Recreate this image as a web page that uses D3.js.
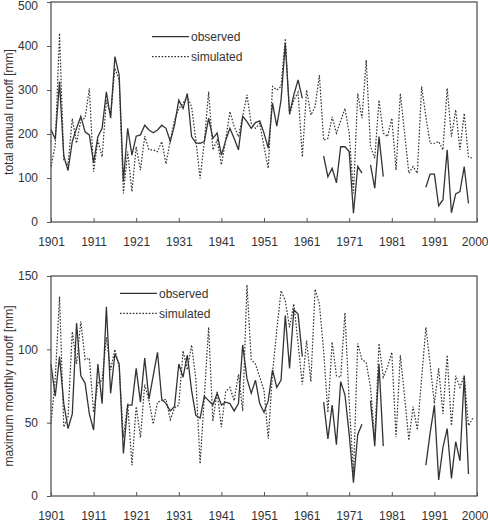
<!DOCTYPE html>
<html>
<head>
<meta charset="utf-8">
<script src="https://cdn.jsdelivr.net/npm/d3@7"></script>
<style>
body { margin: 0; background: #fff; }
svg { display: block; font-family: "Liberation Sans", Arial, sans-serif; }
.axis text { font-size: 12px; fill: #333; }
.axis path { display: none; }
.axis line { stroke: #555; }
.line { fill: none; stroke: #333; }
</style>
</head>
<body>
<svg width="488" height="525"></svg>
<script>
// years 1901..2000, null = no observation
var firstYear = 1901;

var annualObserved = [
  210,188,319,150,117,183,213,240,205,198,
  135,194,213,296,236,376,334,92,213,152,
  195,198,220,209,203,209,220,213,183,220,
  277,258,292,194,180,179,183,236,190,202,
  152,185,213,190,164,240,228,213,226,230,
  202,168,270,218,277,406,247,289,323,281,
  null,null,null,null,150,103,122,89,171,171,
  160,20,126,111,null,130,77,194,103,null,
  null,null,null,null,null,null,null,null,79,109,
  109,37,50,164,21,64,69,126,42,null
];

var annualSimulated = [
  126,175,429,141,130,235,179,232,236,304,
  114,186,148,277,243,349,323,65,160,69,
  171,118,195,164,164,160,183,132,186,232,
  258,270,285,262,186,99,183,296,164,186,
  130,186,251,217,194,240,289,224,213,224,
  171,122,308,300,308,417,243,277,295,148,
  300,243,262,334,186,190,239,202,230,258,
  202,65,292,236,368,171,145,277,202,194,
  236,118,292,202,111,126,111,308,239,179,
  179,183,164,304,194,255,164,247,148,145
];

var monthlyObserved = [
  90,68,95,63,46,56,118,82,77,56,
  45,90,63,129,70,97,90,29,62,62,
  87,64,94,66,82,98,66,63,58,61,
  90,81,96,72,55,53,68,65,62,70,
  62,64,63,58,63,103,80,70,79,63,
  57,65,86,74,79,123,87,127,124,95,
  null,null,null,null,64,39,62,35,78,69,
  42,9,42,49,null,65,34,90,34,null,
  null,null,null,null,null,null,null,null,21,43,
  62,11,33,46,12,37,24,82,15,null
];

var monthlySimulated = [
  49,80,136,47,54,112,90,119,93,94,
  57,77,79,108,86,100,88,40,63,21,
  61,40,76,65,49,64,65,66,52,60,
  62,99,86,103,80,22,68,115,51,71,
  47,71,74,65,83,58,144,93,90,81,
  72,39,84,113,140,133,115,131,104,76,
  106,78,141,131,99,57,105,82,81,125,
  64,15,104,93,91,74,38,104,81,88,
  98,40,96,68,38,61,45,80,115,90,
  63,87,56,96,48,82,74,82,48,53
];

var xTicks = [1901,1911,1921,1931,1941,1951,1961,1971,1981,1991,2001];
var xTickLabels = ["1901","1911","1921","1931","1941","1951","1961","1971","1981","1991","2000"];
var annualTicks = [0,100,200,300,400,500];
var monthlyTicks = [0,50,100,150];
var seriesNames = ["observed","simulated"];

var svg = d3.select("svg");

function toPoints(values){
  return values.map(function(v, i){ return {year: firstYear + i, value: v}; });
}

function drawPanel(opts){
  var g = svg.append("g").attr("transform", "translate(" + opts.left + "," + opts.top + ")");
  var width = opts.width, height = opts.height;

  var x = d3.scaleLinear().domain([1901, 2001]).range([0, width]);
  var y = d3.scaleLinear().domain([0, opts.max]).range([height, 0]);

  var line = d3.line()
    .defined(function(d){ return d.value !== null; })
    .x(function(d){ return x(d.year); })
    .y(function(d){ return y(d.value); });

  var xAxis = g.append("g")
    .attr("class", "axis")
    .attr("transform", "translate(0," + height + ")")
    .call(d3.axisBottom(x)
      .tickValues(xTicks)
      .tickSizeInner(-4)
      .tickSizeOuter(0)
      .tickPadding(15)
      .tickFormat(function(d, i){ return xTickLabels[i]; }));

  // last label sits flush with the right edge
  xAxis.selectAll(".tick text")
    .filter(function(d){ return d === 2001; })
    .attr("text-anchor", "end")
    .attr("dx", 11);

  var yAxis = g.append("g")
    .attr("class", "axis")
    .call(d3.axisLeft(y)
      .tickValues(opts.ticks)
      .tickSizeInner(4)
      .tickSizeOuter(0)
      .tickPadding(9));

  // keep the top label inside the page
  if (opts.top < 5) {
    yAxis.selectAll(".tick text")
      .filter(function(d){ return d === opts.max; })
      .attr("dy", "0.62em");
  }

  g.append("path")
    .datum(toPoints(opts.sim))
    .attr("class", "line")
    .attr("stroke-width", 1.2)
    .attr("stroke-dasharray", "1.6,1.6")
    .attr("d", line);

  g.append("path")
    .datum(toPoints(opts.obs))
    .attr("class", "line")
    .attr("stroke-width", 1.3)
    .attr("d", line);

  g.append("rect")
    .attr("width", width)
    .attr("height", height)
    .attr("fill", "none")
    .attr("stroke", "#555")
    .attr("stroke-width", 1.3);

  svg.append("text")
    .attr("transform", "translate(9," + (opts.top + height / 2) + ") rotate(-90)")
    .attr("text-anchor", "middle")
    .attr("dy", "0.35em")
    .style("font-size", "12px")
    .style("fill", "#333")
    .text(opts.title);

  var legend = g.selectAll(".legend")
    .data(seriesNames)
    .enter().append("g")
    .attr("class", "legend")
    .attr("transform", function(d, i){ return "translate(" + opts.legendX + "," + (opts.legendY + i * 20) + ")"; });

  legend.append("line")
    .attr("x1", 0).attr("x2", 37)
    .attr("stroke", "#333")
    .attr("stroke-width", function(d, i){ return i === 0 ? 1.3 : 1.2; })
    .attr("stroke-dasharray", function(d, i){ return i === 0 ? null : "1.6,1.6"; });

  legend.append("text")
    .attr("x", 39)
    .attr("dy", "0.35em")
    .style("font-size", "12px")
    .style("fill", "#333")
    .text(function(d){ return d; });
}

drawPanel({
  left: 51, top: 2, width: 426, height: 220, max: 500,
  ticks: annualTicks, obs: annualObserved, sim: annualSimulated,
  title: "total annual runoff [mm]", legendX: 101, legendY: 34.7
});

drawPanel({
  left: 51, top: 276, width: 426, height: 220, max: 150,
  ticks: monthlyTicks, obs: monthlyObserved, sim: monthlySimulated,
  title: "maximum monthly runoff [mm]", legendX: 69, legendY: 17.3
});
</script>
</body>
</html>
